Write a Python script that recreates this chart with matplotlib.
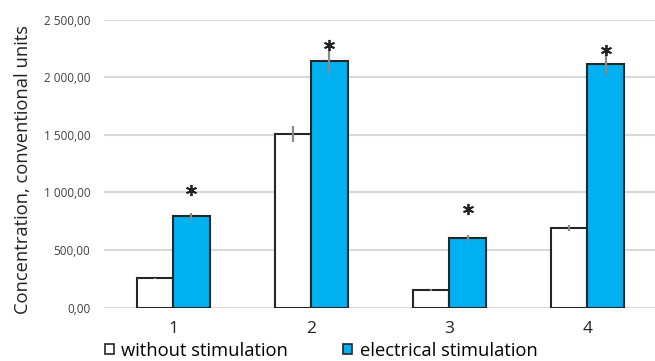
import matplotlib.pyplot as plt
import numpy as np
from matplotlib.ticker import FuncFormatter
from matplotlib.patches import Patch

plt.rcParams['font.family'] = ['Open Sans', 'DejaVu Sans']

groups = ['1', '2', '3', '4']
without_stim = [255, 1510, 154, 690]
without_err = [5, 70, 8, 25]
electrical_stim = [795, 2143, 607, 2120]
electrical_err = [30, 105, 25, 100]
star_level = [1020, 2280, 855, 2240]

blue = '#00b0f0'
edge = '#262626'

fig = plt.figure(figsize=(6.55, 3.61), dpi=100)
ax = fig.add_axes([0.159, 0.148, 0.843, 0.797])

x = np.arange(1, len(groups) + 1)
w = 0.265

ax.bar(x - w / 2, without_stim, w, color='white', edgecolor=edge, linewidth=1.5, zorder=3)
ax.bar(x + w / 2, electrical_stim, w, color=blue, edgecolor=edge, linewidth=1.5, zorder=3)
ax.errorbar(x - w / 2, without_stim, yerr=without_err, fmt='none', ecolor='#8a8a8a',
            elinewidth=1.6, capsize=0, zorder=4)
ax.errorbar(x + w / 2, electrical_stim, yerr=electrical_err, fmt='none', ecolor='#8a8a8a',
            elinewidth=1.6, capsize=0, zorder=4)

# significance marks
ax.plot(x + w / 2, star_level, ls='none', marker=(6, 2, 0), ms=8, mew=1.3,
        color='#222222', zorder=5)

ax.set_xlim(0.5, 4.5)
ax.set_ylim(0, 2500)
ax.set_yticks(np.arange(0, 2501, 500))
ax.yaxis.set_major_formatter(FuncFormatter(lambda v, p: f'{v:,.2f}'.replace(',', ' ').replace('.', ',')))
ax.set_xticks(x)
ax.set_xticklabels(groups, fontsize=12.5)
ax.tick_params(axis='y', labelsize=8.5, colors='#404040', length=0, pad=10)
ax.tick_params(axis='x', length=0, pad=10, colors='#222222')
ax.grid(axis='y', color='#d9d9d9', linewidth=1.5, zorder=0)
for sp in ax.spines.values():
    sp.set_visible(False)

ax.set_ylabel('Concentration, conventional units', fontsize=13.2, color='#222222')
ax.yaxis.set_label_coords(-0.13, 0.48)

handles = [Patch(facecolor='white', edgecolor=edge, linewidth=1.2),
           Patch(facecolor=blue, edgecolor=edge, linewidth=1.2)]
fig.legend(handles, ['without stimulation', 'electrical stimulation'], loc='lower left',
           bbox_to_anchor=(0.135, -0.042), ncol=2, frameon=False, fontsize=13.2,
           handlelength=0.5, handleheight=0.5, handletextpad=0.4, columnspacing=3.0)

fig.savefig('out.png', dpi=100)
